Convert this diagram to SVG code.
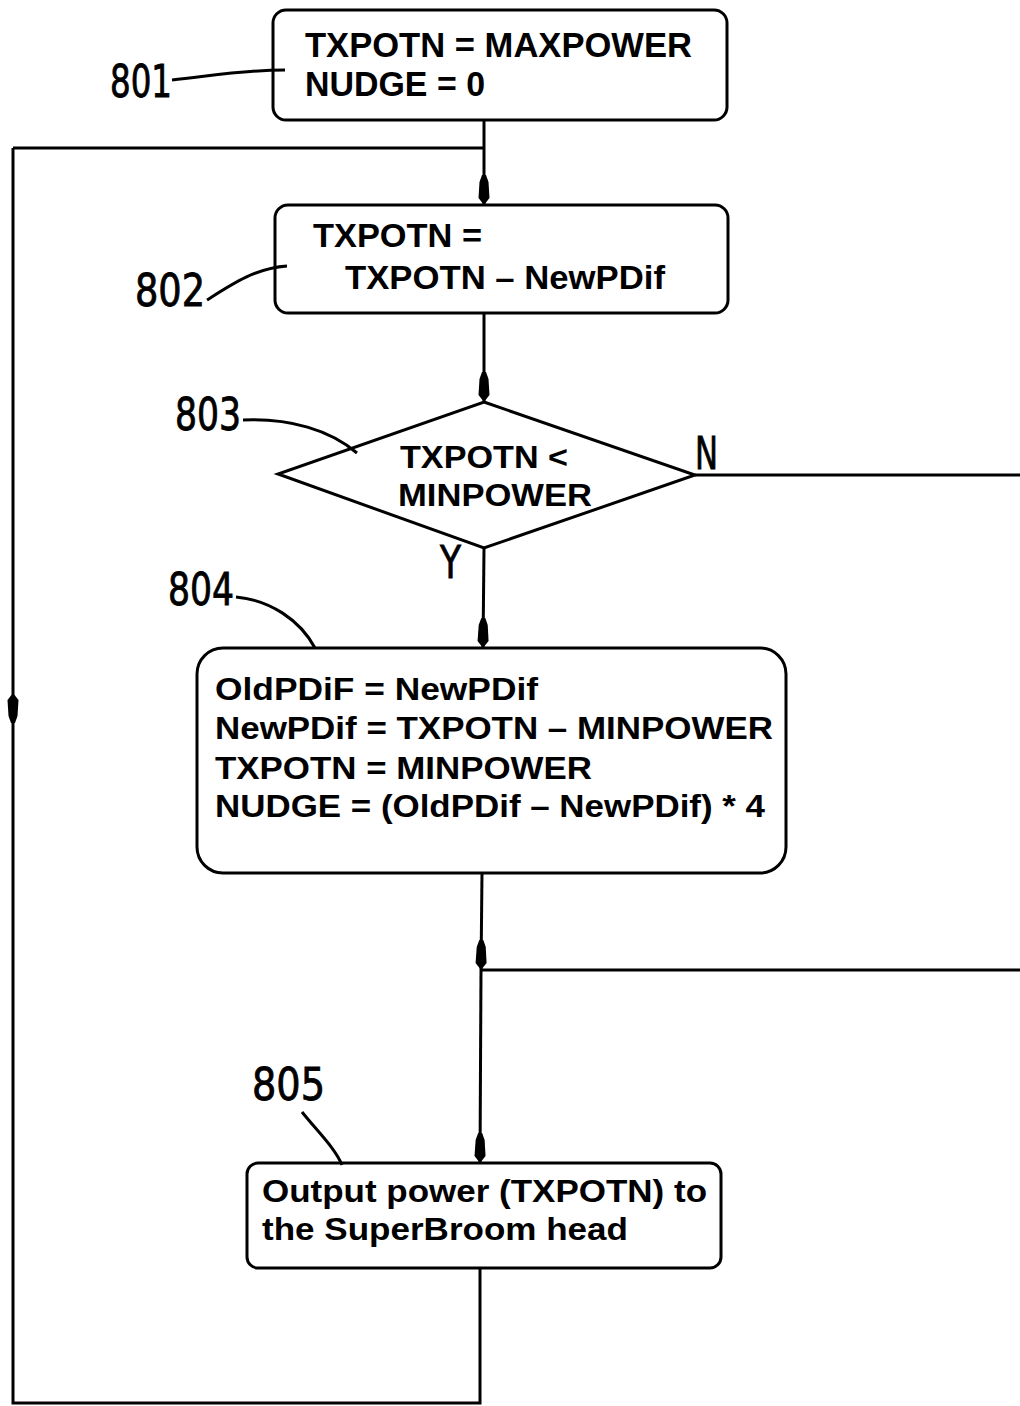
<svg xmlns="http://www.w3.org/2000/svg" width="1020" height="1406" viewBox="0 0 1020 1406">
<style>
.box{fill:#fff;stroke:#000;stroke-width:3}
.ln{fill:none;stroke:#000;stroke-width:3}
.ld{fill:none;stroke:#000;stroke-width:3}
.t{font-family:"Liberation Sans",Arial,sans-serif;font-weight:bold;fill:#000}
.lb{font-family:"Liberation Sans Narrow","DejaVu Sans Condensed","Liberation Sans",sans-serif;font-size:44px;fill:#000;stroke:#000;stroke-width:0.8}
</style>
<defs>
<marker id="ah" markerUnits="userSpaceOnUse" viewBox="0 -6 30 12" refX="30" refY="0" markerWidth="30" markerHeight="12" orient="auto">
<path d="M0,-2 L7,-4.5 L23,-5.5 L30,0 L23,5.5 L7,4.5 L0,2 Z" fill="#000"/>
</marker>
</defs>
<rect width="1020" height="1406" fill="#fff"/>
<g id="connectors">
<line class="ln" x1="484" y1="120" x2="484" y2="205" marker-end="url(#ah)"/>
<line class="ln" x1="13" y1="148" x2="484" y2="148"/>
<line class="ln" x1="484" y1="313" x2="484" y2="402" marker-end="url(#ah)"/>
<line class="ln" x1="695" y1="475" x2="1020" y2="475"/>
<line class="ln" x1="484" y1="548" x2="483" y2="648" marker-end="url(#ah)"/>
<line class="ln" x1="482" y1="873" x2="481" y2="970" marker-end="url(#ah)"/>
<line class="ln" x1="1020" y1="970" x2="481" y2="970"/>
<line class="ln" x1="481" y1="970" x2="480" y2="1163" marker-end="url(#ah)"/>
<polyline class="ln" points="480,1268 480,1403 13,1403 13,693" marker-end="url(#ah)"/>
<line class="ln" x1="13" y1="693" x2="13" y2="148"/>
</g>
<g id="n801">
<rect class="box" x="273" y="10" width="454" height="110" rx="13"/>
<text class="t" font-size="35" x="305" y="57" textLength="387" lengthAdjust="spacingAndGlyphs">TXPOTN = MAXPOWER</text>
<text class="t" font-size="35" x="305" y="96" textLength="180" lengthAdjust="spacingAndGlyphs">NUDGE = 0</text>
<text class="lb" x="110" y="97" textLength="62" lengthAdjust="spacingAndGlyphs">801</text>
<path class="ld" d="M172,80 C205,77 240,70 285,70"/>
</g>
<g id="n802">
<rect class="box" x="275" y="205" width="453" height="108" rx="13"/>
<text class="t" font-size="34" x="313" y="247" textLength="169" lengthAdjust="spacingAndGlyphs">TXPOTN =</text>
<text class="t" font-size="34" x="345" y="289" textLength="320" lengthAdjust="spacingAndGlyphs">TXPOTN – NewPDif</text>
<text class="lb" x="135" y="306" textLength="70" lengthAdjust="spacingAndGlyphs">802</text>
<path class="ld" d="M207,300 C232,284 256,268 287,266"/>
</g>
<g id="n803">
<polygon class="box" points="484,402 695,475 484,548 278,474"/>
<text class="t" font-size="31" x="400" y="468" textLength="168" lengthAdjust="spacingAndGlyphs">TXPOTN &lt;</text>
<text class="t" font-size="31" x="398" y="506" textLength="194" lengthAdjust="spacingAndGlyphs">MINPOWER</text>
<text class="lb" x="175" y="430" textLength="66" lengthAdjust="spacingAndGlyphs">803</text>
<path class="ld" d="M243,420 C290,418 330,430 357,453"/>
<text class="lb" font-size="38" x="695" y="469" textLength="23" lengthAdjust="spacingAndGlyphs">N</text>
<text class="lb" font-size="38" x="440" y="578" textLength="21" lengthAdjust="spacingAndGlyphs">Y</text>
</g>
<g id="n804">
<rect class="box" x="197" y="648" width="589" height="225" rx="26"/>
<text class="t" font-size="32" x="215" y="700" textLength="323" lengthAdjust="spacingAndGlyphs">OldPDiF = NewPDif</text>
<text class="t" font-size="32" x="215" y="739" textLength="558" lengthAdjust="spacingAndGlyphs">NewPDif = TXPOTN – MINPOWER</text>
<text class="t" font-size="32" x="215" y="779" textLength="377" lengthAdjust="spacingAndGlyphs">TXPOTN = MINPOWER</text>
<text class="t" font-size="32" x="215" y="817" textLength="550" lengthAdjust="spacingAndGlyphs">NUDGE = (OldPDif – NewPDif) * 4</text>
<text class="lb" x="168" y="605" textLength="66" lengthAdjust="spacingAndGlyphs">804</text>
<path class="ld" d="M236,597 C270,600 300,620 315,648"/>
</g>
<g id="n805">
<rect class="box" x="247" y="1163" width="474" height="105" rx="11"/>
<text class="t" font-size="32" x="262" y="1202" textLength="445" lengthAdjust="spacingAndGlyphs">Output power (TXPOTN) to</text>
<text class="t" font-size="32" x="262" y="1240" textLength="366" lengthAdjust="spacingAndGlyphs">the SuperBroom head</text>
<text class="lb" x="252" y="1100" textLength="73" lengthAdjust="spacingAndGlyphs">805</text>
<path class="ld" d="M302,1112 C318,1132 335,1148 342,1165"/>
</g>
</svg>
